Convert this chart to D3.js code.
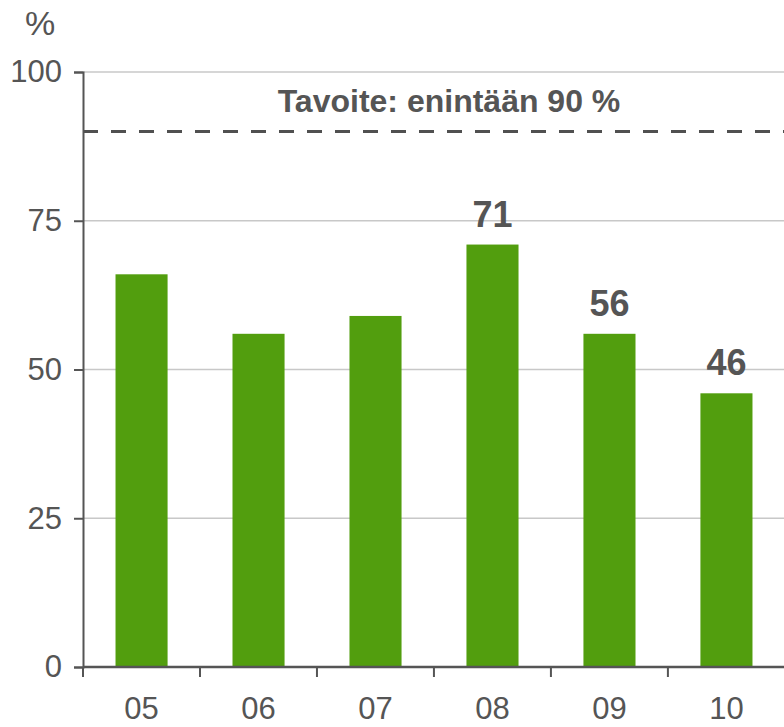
<!DOCTYPE html>
<html>
<head>
<meta charset="utf-8">
<script src="https://cdn.jsdelivr.net/npm/d3@7"></script>
<style>
  body { margin: 0; background: #fff; }
  text { font-family: "Liberation Sans", Arial, sans-serif; fill: #555; }
</style>
</head>
<body>
<svg width="784" height="727"></svg>
<script>
var years = ["05", "06", "07", "08", "09", "10"];
var shares = [66, 56, 59, 71, 56, 46];
var labelled = [false, false, false, true, true, true];
var yTicks = [0, 25, 50, 75, 100];
var target = 90;
var targetLabel = "Tavoite: enintään 90 %";

var svg = d3.select("svg"),
    plotLeft = 83, plotRight = 785, plotTop = 72, plotBottom = 667;

var x = d3.scaleBand()
    .domain(years)
    .range([plotLeft, plotRight])
    .paddingInner(0.555)
    .paddingOuter(0.278);

var y = d3.scaleLinear()
    .domain([0, 100])
    .range([plotBottom, plotTop]);

// gridlines
svg.append("g")
  .selectAll("line")
  .data(yTicks.filter(function(d) { return d > 0; }))
  .enter().append("line")
    .attr("x1", plotLeft).attr("x2", 784)
    .attr("y1", function(d) { return y(d); })
    .attr("y2", function(d) { return y(d); })
    .attr("stroke", "#c8c8c8")
    .attr("stroke-width", 1.5);

// bars
svg.append("g")
  .selectAll("rect")
  .data(shares)
  .enter().append("rect")
    .attr("x", function(d, i) { return x(years[i]); })
    .attr("y", function(d) { return y(d); })
    .attr("width", x.bandwidth())
    .attr("height", function(d) { return y(0) - y(d); })
    .attr("fill", "#529e0e");

// value labels (only the last three years are labelled)
var labelIdx = d3.range(years.length).filter(function(i) { return labelled[i]; });
svg.append("g")
  .selectAll("text")
  .data(labelIdx)
  .enter().append("text")
    .attr("x", function(i) { return x(years[i]) + x.bandwidth() / 2; })
    .attr("y", function(i) { return y(shares[i]) - 18; })
    .attr("text-anchor", "middle")
    .attr("font-size", 36)
    .attr("font-weight", "bold")
    .text(function(i) { return shares[i]; });

// target line
svg.append("line")
    .attr("x1", plotLeft).attr("x2", 784)
    .attr("y1", y(target)).attr("y2", y(target))
    .attr("stroke", "#505050")
    .attr("stroke-width", 3)
    .attr("stroke-dasharray", "15,13");

svg.append("text")
    .attr("x", 449)
    .attr("y", 112)
    .attr("text-anchor", "middle")
    .attr("font-size", 32)
    .attr("font-weight", "bold")
    .text(targetLabel);

// y axis
var yAxis = svg.append("g")
    .attr("transform", "translate(" + plotLeft + ",0)")
    .call(d3.axisLeft(y).tickValues(yTicks).tickSize(9).tickPadding(12));
yAxis.select(".domain").attr("stroke", "#555").attr("stroke-width", 2);
yAxis.selectAll(".tick line").attr("stroke", "#555").attr("stroke-width", 2);
yAxis.selectAll(".tick text")
    .attr("font-size", 31).attr("fill", "#555")
    .attr("font-family", "Liberation Sans, Arial, sans-serif");

// x axis
var xAxis = svg.append("g")
    .attr("transform", "translate(0," + plotBottom + ")")
    .call(d3.axisBottom(x).tickSize(0).tickPadding(30));
xAxis.select(".domain").attr("d", "M" + plotLeft + ",0H784").attr("stroke", "#555").attr("stroke-width", 2.5);
xAxis.selectAll(".tick text")
    .attr("font-size", 31).attr("fill", "#555")
    .attr("font-family", "Liberation Sans, Arial, sans-serif");

// boundary ticks between categories
var step = x.step();
xAxis.append("g")
  .selectAll("line")
  .data(years)
  .enter().append("line")
    .attr("x1", function(d) { return x(d) - x.paddingOuter() * step; })
    .attr("x2", function(d) { return x(d) - x.paddingOuter() * step; })
    .attr("y1", 0).attr("y2", 10)
    .attr("stroke", "#555")
    .attr("stroke-width", 2);

svg.append("text")
    .attr("x", 40)
    .attr("y", 35)
    .attr("text-anchor", "middle")
    .attr("font-size", 34)
    .text("%");
</script>
</body>
</html>
